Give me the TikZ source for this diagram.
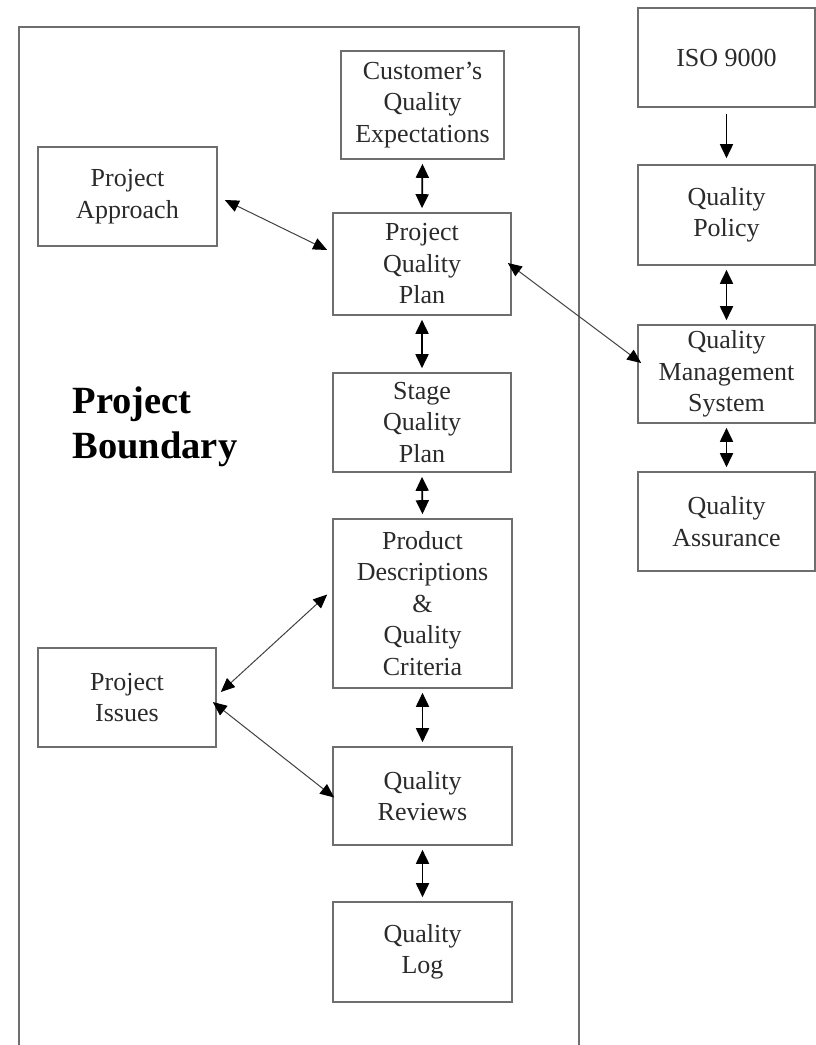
\documentclass[tikz,border=0pt]{standalone}
\usepackage{fontspec}
\setmainfont{Liberation Serif}
\usetikzlibrary{arrows.meta}
\definecolor{edgegray}{HTML}{6E6E6E}
\definecolor{inkgray}{HTML}{2A2A2A}
\begin{document}
\begin{tikzpicture}[x=1pt,y=-1pt,
  box/.style={draw=edgegray, line width=1.6pt, rectangle, inner sep=0pt,
    align=center, text=inkgray, font=\fontsize{26}{31.5}\selectfont},
  link/.style={line width=1.8pt,
    {Triangle[length=14pt,width=13pt]}-{Triangle[length=14pt,width=13pt]},
    shorten <=4pt, shorten >=4pt},
  onelink/.style={line width=1.6pt, -{Triangle[length=14pt,width=13pt]},
    shorten <=6pt, shorten >=6pt},
  slant/.style={line width=1pt, draw=black!75,
    {Triangle[length=14pt,width=12pt,color=black]}-{Triangle[length=14pt,width=12pt,color=black]}}]

\useasboundingbox (0,0) rectangle (816,1045);

% project boundary, open at the bottom
\draw[edgegray, line width=1.6pt] (19,1046) -- (19,27) -- (579,27) -- (579,1046);
\node[anchor=west, align=left, text=black,
  font=\bfseries\fontsize{38.5}{45}\selectfont] (lbl) at (69,427) {Project\\Boundary};

% project-side boxes
\node[box, minimum width=163pt, minimum height=108pt] (cqe) at (422.5,105) {Customer’s\\Quality\\Expectations};
\node[box, minimum width=179pt, minimum height=99pt] (pa) at (127.5,196.5) {Project\\Approach};
\node[box, minimum width=178pt, minimum height=102pt] (pqp) at (422,264) {Project\\Quality\\Plan};
\node[box, minimum width=178pt, minimum height=99pt] (sqp) at (422,422.5) {Stage\\Quality\\Plan};
\node[box, minimum width=179pt, minimum height=169pt] (pd) at (422.5,603.5) {Product\\Descriptions\\\&\\Quality\\Criteria};
\node[box, minimum width=179pt, minimum height=98pt] (qr) at (422.5,796) {Quality\\Reviews};
\node[box, minimum width=179pt, minimum height=100pt] (ql) at (422.5,952) {Quality\\Log};
\node[box, minimum width=178pt, minimum height=99pt] (pi) at (127,697.5) {Project\\Issues};

% corporate quality boxes
\node[box, minimum width=177pt, minimum height=99pt] (iso) at (726.5,57.5) {ISO 9000};
\node[box, minimum width=177pt, minimum height=100pt] (qp) at (726.5,215) {Quality\\Policy};
\node[box, minimum width=177pt, minimum height=98pt] (qms) at (726.5,374) {Quality\\Management\\System};
\node[box, minimum width=177pt, minimum height=99pt] (qa) at (726.5,521.5) {Quality\\Assurance};

% vertical links
\draw[link] (cqe.south) -- (pqp.north);
\draw[link] (pqp.south) -- (sqp.north);
\draw[link] (sqp.south) -- (pd.north);
\draw[link] (pd.south) -- (qr.north);
\draw[link] (qr.south) -- (ql.north);
\draw[onelink] (iso.south) -- (qp.north);
\draw[link] (qp.south) -- (qms.north);
\draw[link] (qms.south) -- (qa.north);

% diagonal links
\draw[slant] ([xshift=7pt,yshift=-3.5pt]pa.east) -- ([xshift=-5pt,yshift=14pt]pqp.west);
\draw[slant] ([xshift=-4pt,yshift=1pt]pqp.east) -- ([xshift=4pt,yshift=11pt]qms.west);
\draw[slant] ([xshift=-5pt,yshift=9pt]pd.west) -- ([xshift=4pt,yshift=5.5pt]pi.east);
\draw[slant] ([xshift=-4pt,yshift=-4.5pt]pi.east) -- ([xshift=2pt,yshift=-1.5pt]qr.west);
\end{tikzpicture}
\end{document}
